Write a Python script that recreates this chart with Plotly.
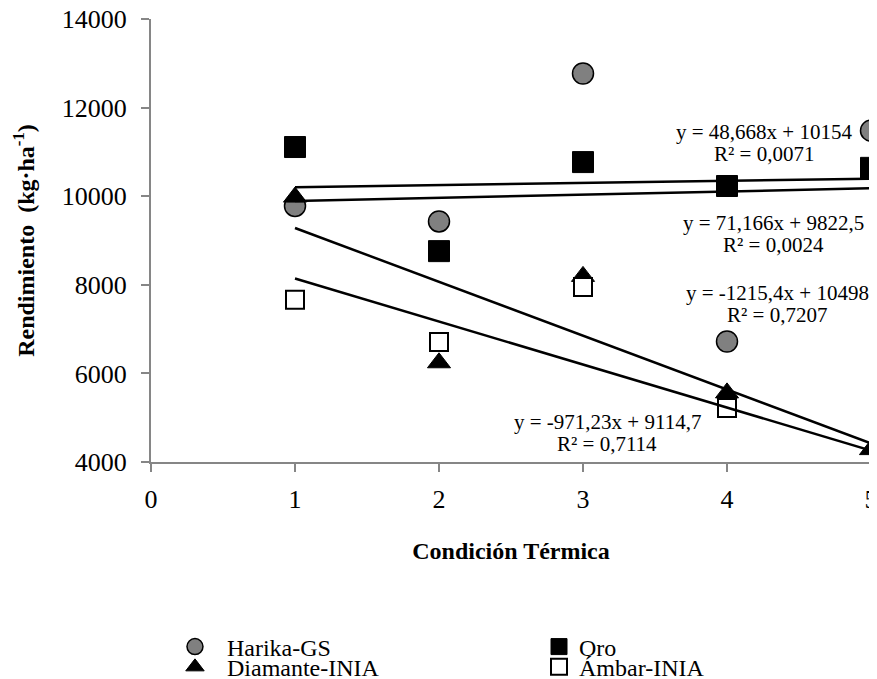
import plotly.graph_objects as go

# ---------------- data ----------------
condicion = [1, 2, 3, 4, 5]
series_names = ["Harika-GS", "Oro", "Diamante-INIA", "Ámbar-INIA"]
harika = [9780, 9430, 12770, 6720, 11480]
oro = [11110, 8760, 10770, 10230, 10640]
diamante = [9980, 6240, 8190, 5560, 4280]
ambar = [7660, 6710, 7950, 5220, 3520]

# linear trendlines (as reported on the chart)
trend_slopes = [71.166, 48.668, -1215.4, -971.23]
trend_intercepts = [9822.5, 10154, 10498, 9114.7]
trend_x = [1, 5]
eq_texts = ["y = 71,166x + 9822,5", "y = 48,668x + 10154",
            "y = -1215,4x + 10498", "y = -971,23x + 9114,7"]
r2_texts = ["R² = 0,0024", "R² = 0,0071", "R² = 0,7207", "R² = 0,7114"]
label_x = [4.32, 4.26, 4.35, 3.17]
label_y = [9150, 11190, 7570, 4650]

y_ticks = [4000, 6000, 8000, 10000, 12000, 14000]
x_ticks = [0, 1, 2, 3, 4, 5]

FONT = "Liberation Serif"
AXC = "#868686"

fig = go.Figure()

values = [harika, oro, diamante, ambar]
styles = [
    dict(symbol="circle", size=21, color="#808080", line=dict(color="black", width=1.5)),
    dict(symbol="square", size=21, color="black", line=dict(color="black", width=1)),
    dict(symbol="triangle-up", size=20, color="black", line=dict(color="black", width=1)),
    dict(symbol="square", size=18, color="white", line=dict(color="black", width=2)),
]
legends = ["legend", "legend2", "legend3", "legend4"]
prefix = ["\u2002", "", "\u2002", ""]
clip = [False, False, False, True]

for name, vals, st, lg, pf, cl in zip(series_names, values, styles, legends, prefix, clip):
    fig.add_trace(go.Scatter(x=condicion, y=vals, mode="markers", name=pf + name,
                             marker=st, legend=lg, cliponaxis=cl))

for m, b in zip(trend_slopes, trend_intercepts):
    fig.add_trace(go.Scatter(x=trend_x, y=[m * x + b for x in trend_x], mode="lines",
                             line=dict(color="black", width=2.5), showlegend=False,
                             hoverinfo="skip"))

for eq, r2, lx, ly in zip(eq_texts, r2_texts, label_x, label_y):
    fig.add_annotation(x=lx, y=ly, text=eq, showarrow=False, yshift=11,
                       font=dict(family=FONT, size=21, color="black"))
    fig.add_annotation(x=lx, y=ly, text=r2, showarrow=False, yshift=-11,
                       font=dict(family=FONT, size=21, color="black"))

leg_font = dict(family=FONT, size=24, color="black")
leg_common = dict(orientation="h", xanchor="left", yanchor="middle", yref="container",
                  font=leg_font, bgcolor="rgba(0,0,0,0)")
fig.update_layout(
    width=869, height=671,
    margin=dict(l=143, r=6, t=11, b=217),
    paper_bgcolor="white", plot_bgcolor="white",
    font=dict(family=FONT, color="black"),
    showlegend=True,
    legend=dict(x=0.0333, y=0.0477, **leg_common),
    legend2=dict(x=0.5389, y=0.0477, **leg_common),
    legend3=dict(x=0.0333, y=0.0175, **leg_common),
    legend4=dict(x=0.5389, y=0.0175, **leg_common),
)

fig.update_xaxes(range=[0, 5], tickvals=x_ticks, ticktext=[str(v) for v in x_ticks],
                 showline=True, linecolor=AXC, linewidth=2,
                 ticks="outside", ticklen=8, tickwidth=2, tickcolor=AXC,
                 showgrid=False, zeroline=False, ticklabelstandoff=5,
                 ticklabeloverflow="allow", automargin=False,
                 tickfont=dict(family=FONT, size=26, color="black"),
                 title=dict(text="<b>Condición Térmica</b>", standoff=29,
                            font=dict(family=FONT, size=24, color="black")))
fig.update_yaxes(range=[4000, 14000], tickvals=y_ticks, ticktext=[str(v) for v in y_ticks],
                 showline=True, linecolor=AXC, linewidth=2,
                 ticks="outside", ticklen=8, tickwidth=2, tickcolor=AXC,
                 showgrid=False, zeroline=False, ticklabelstandoff=9, automargin=False,
                 ticklabeloverflow="allow",
                 tickfont=dict(family=FONT, size=26, color="black"),
                 title=dict(text="<b>Rendimiento  (kg·ha<sup>-1</sup>)</b>", standoff=20,
                            font=dict(family=FONT, size=24, color="black")))

fig.write_html("out.html")
